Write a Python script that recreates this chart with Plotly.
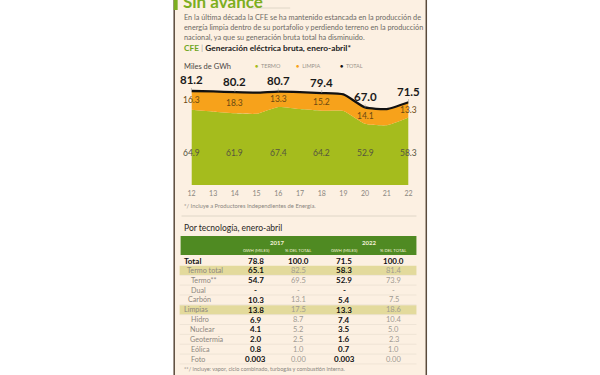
import plotly.graph_objects as go

# ---------------- data ----------------
years = [12, 13, 14, 15, 16, 17, 18, 19, 20, 21, 22]
termo = [64.9, 63.3, 61.9, 61.5, 67.4, 65.6, 64.2, 64.0, 52.9, 51.6, 58.3]
total = [81.2, 80.8, 80.2, 79.8, 80.7, 80.3, 79.4, 78.2, 67.0, 65.6, 71.5]
limpia = [16.3, 17.5, 18.3, 18.3, 13.3, 14.7, 15.2, 14.2, 14.1, 14.0, 13.3]
labeled_years = [12, 14, 16, 18, 20, 22]

row_labels = ["Total", "Termo total", "Termo**", "Dual", "Carbón", "Limpias",
              "Hidro", "Nuclear", "Geotermia", "Eólica", "Foto"]
gwh_2017 = [78.8, 65.1, 54.7, None, 10.3, 13.8, 6.9, 4.1, 2.0, 0.8, 0.003]
pct_2017 = [100.0, 82.5, 69.5, None, 13.1, 17.5, 8.7, 5.2, 2.5, 1.0, 0.00]
gwh_2022 = [71.5, 58.3, 52.9, None, 5.4, 13.3, 7.4, 3.5, 1.6, 0.7, 0.003]
pct_2022 = [100.0, 81.4, 73.9, None, 7.5, 18.6, 10.4, 5.0, 2.3, 1.0, 0.00]
gwh_decimals = [1, 1, 1, 1, 1, 1, 1, 1, 1, 1, 3]
pct_decimals = [1, 1, 1, 1, 1, 1, 1, 1, 1, 1, 2]
table_years = ["2017", "2022"]
col_headers = ["GWH (MILES)", "% DEL TOTAL", "GWH (MILES)", "% DEL TOTAL"]
highlight_rows = ["Termo total", "Limpias"]

# ---------------- styles ----------------
W, H = 600, 375
BG = "#fcf0e2"
GREEN = "#a5bc1d"
ORANGE = "#f7a21b"
HEADER = "#4f8a22"
HILITE = "#e3da9c"
FONT = "Lato"
row_indent_px = [0, 3, 7, 8, 4, 0, 8, 6, 6, 8, 8]
col_x = [255, 298, 345, 395]
row_y0, row_dy = 260.5, 9.85


def px(x):
    return x / W


def py(y):
    return 1 - y / H


fig = go.Figure()

fig.add_trace(go.Scatter(
    x=years, y=termo, mode="lines", fill="tozeroy", fillcolor=GREEN,
    line=dict(color=GREEN, width=0, shape="spline", smoothing=0.5),
    hoverinfo="skip", showlegend=False))
fig.add_trace(go.Scatter(
    x=years, y=total, mode="lines", fill="tonexty", fillcolor=ORANGE,
    line=dict(color="#111111", width=2.3, shape="spline", smoothing=0.5),
    hoverinfo="skip", showlegend=False))

annotations = []
for yr, t, tt, l in zip(years, termo, total, limpia):
    if yr not in labeled_years:
        continue
    annotations.append(dict(x=yr, y=tt, xref="x", yref="y", text=f"<b>{tt:.1f}</b>",
                            showarrow=True, arrowhead=0, arrowwidth=0.6, arrowcolor="#999",
                            ax=0, ay=-11, font=dict(family=FONT, size=11.5, color="#1a1a1a")))
    annotations.append(dict(x=yr, y=t + l / 2, xref="x", yref="y", text=f"{l:.1f}",
                            showarrow=False, font=dict(family=FONT, size=8.5, color="#6b4a12")))
    annotations.append(dict(x=yr, y=27.5, xref="x", yref="y", text=f"{t:.1f}",
                            showarrow=False, font=dict(family=FONT, size=8.5, color="#55553f")))

fig.update_xaxes(domain=[px(190), px(410)], range=[12, 22], tickmode="array",
                 tickvals=years, ticktext=[str(y) for y in years], showgrid=False,
                 zeroline=False, showline=False, ticks="", ticklabelstandoff=3,
                 tickfont=dict(family=FONT, size=7, color="#8a8680"))
fig.update_yaxes(domain=[py(185), py(80.8)], range=[0, 90], visible=False)

shapes = [
    dict(type="rect", xref="paper", yref="paper", x0=px(172), x1=px(428), y0=0, y1=1,
         fillcolor=BG, line_width=0, layer="below"),
    dict(type="line", xref="paper", yref="paper", x0=px(172.5), x1=px(172.5), y0=0, y1=1,
         line=dict(color="#5a4a3c", width=1.5)),
    dict(type="line", xref="paper", yref="paper", x0=px(428), x1=px(428), y0=0, y1=1,
         line=dict(color="#5a4a3c", width=1.5)),
    dict(type="rect", xref="paper", yref="paper", x0=px(172), x1=px(176), y0=py(10), y1=1,
         fillcolor="#7cae1f", line_width=0),
    dict(type="line", xref="paper", yref="paper", x0=px(248), x1=px(290), y0=py(8), y1=py(8),
         line=dict(color="#d8cfc2", width=0.8)),
    dict(type="line", xref="paper", yref="paper", x0=px(180), x1=px(418), y0=py(216), y1=py(216),
         line=dict(color="#d8cfc2", width=0.8)),
    dict(type="rect", xref="paper", yref="paper", x0=px(179), x1=px(418), y0=py(255), y1=py(236),
         fillcolor=HEADER, line_width=0),
]


def txt(x, y, s, size, color="#555", xanchor="left"):
    annotations.append(dict(x=px(x), y=py(y), xref="paper", yref="paper", text=s, showarrow=False,
                            xanchor=xanchor, yanchor="middle",
                            font=dict(family=FONT, size=size, color=color)))


# ---------------- table ----------------
def fmt(v, d):
    return "-" if v is None else f"{v:.{d}f}"


txt((col_x[0] + col_x[1]) / 2, 242, f"<b>{table_years[0]}</b>", 6, "#f3f0d8", "center")
txt((col_x[2] + col_x[3]) / 2, 242, f"<b>{table_years[1]}</b>", 6, "#f3f0d8", "center")
for cx, h in zip(col_x, col_headers):
    txt(cx, 250.5, h, 4.3, "#f3f0d8", "center")

for i, lab in enumerate(row_labels):
    yc = row_y0 + i * row_dy
    is_total = lab == "Total"
    if lab in highlight_rows:
        shapes.append(dict(type="rect", xref="paper", yref="paper", x0=px(178), x1=px(418),
                           y0=py(yc + row_dy / 2 - 0.3), y1=py(yc - row_dy / 2 + 0.3),
                           fillcolor=HILITE, line_width=0, layer="below"))
    if i > 0:
        shapes.append(dict(type="line", xref="paper", yref="paper", x0=px(178), x1=px(418),
                           y0=py(yc + row_dy / 2), y1=py(yc + row_dy / 2),
                           line=dict(color="#e6dccd", width=0.6)))
    lab_txt = f"<b>{lab}</b>" if is_total else lab
    txt(180 + row_indent_px[i], yc, lab_txt, 8 if is_total else 7.2,
        "#111" if is_total else "#8d8780")
    vals = [(gwh_2017[i], gwh_decimals[i], True), (pct_2017[i], pct_decimals[i], False),
            (gwh_2022[i], gwh_decimals[i], True), (pct_2022[i], pct_decimals[i], False)]
    for cx, (v, d, is_gwh) in zip(col_x, vals):
        s = fmt(v, d)
        if is_gwh or is_total:
            txt(cx, yc, f"<b>{s}</b>", 8, "#111", "center")
        else:
            txt(cx, yc, s, 7.5, "#a09a92", "center")

# ---------------- texts ----------------
txt(179, 1, "<b>Sin avance</b>", 17, "#7cae1f")
txt(180, 17, "En la última década la CFE se ha mantenido estancada en la producción de", 7.3, "#6e6a64")
txt(180, 28, "energía limpia dentro de su portafolio y perdiendo terreno en la producción", 7.3, "#6e6a64")
txt(180, 38, "nacional, ya que su generación bruta total ha disminuido.", 7.3, "#6e6a64")
txt(180, 48, "<span style='color:#6fa51e'><b>CFE</b></span> <span style='color:#aaa'>|</span> <b>Generación eléctrica bruta, enero-abril*</b>", 8.3, "#1a1a1a")
txt(180, 67, "Miles de GWh", 7.5, "#4a4744")
txt(252, 66, f"<span style='color:{GREEN}'>●</span>  TERMO", 5.5, "#9a948c")
txt(294, 66, f"<span style='color:{ORANGE}'>●</span>  LIMPIA", 5.5, "#9a948c")
txt(339, 66, "<span style='color:#111'>●</span>  TOTAL", 5.5, "#9a948c")
txt(180, 205, "*/ Incluye a Productores Independientes de Energía.", 5.8, "#8a8680")
txt(180, 228, "Por tecnología, enero-abril", 8.5, "#2a2724")
txt(180, 369, "**/ incluye: vapor, ciclo combinado, turbogás y combustión interna.", 5.5, "#8a8680")

fig.update_layout(width=W, height=H, margin=dict(l=0, r=0, t=0, b=0),
                  paper_bgcolor="white", plot_bgcolor=BG, showlegend=False,
                  annotations=annotations, shapes=shapes)

fig.write_html("out.html", config={"displayModeBar": False},
               post_script="document.body.style.margin='0';document.body.style.overflow='hidden';")
